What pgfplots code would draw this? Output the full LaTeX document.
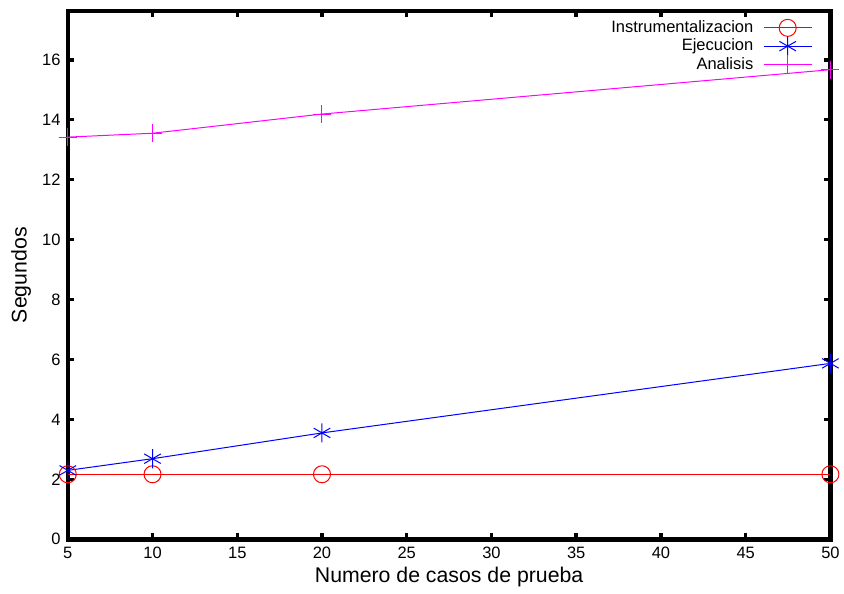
\documentclass[border=0pt]{standalone}
\usepackage{fontspec}
\setmainfont{Liberation Sans}
\usepackage{pgfplots}
\pgfplotsset{compat=1.18}

\definecolor{gpred}{RGB}{255,0,0}
\definecolor{gpblue}{RGB}{0,0,255}
\definecolor{gpmag}{RGB}{255,0,255}

\begin{document}
\begin{tikzpicture}[x=1pt,y=1pt]
\begin{axis}[
    scale only axis,
    width=573.75pt,
    height=397.5pt,
    xmin=5, xmax=50,
    ymin=0, ymax=17.63,
    xtick={5,10,15,20,25,30,35,40,45,50},
    ytick={0,2,4,6,8,10,12,14,16},
    minor tick num=0,
    tick align=inside,
    major tick length=4.5pt,
    every tick/.style={black, line width=2.6pt},
    axis line style={line width=3.3pt, black},
    xlabel={Numero de casos de prueba},
    ylabel={Segundos},
    every axis label/.append style={font=\fontsize{16}{18}\selectfont},
    xlabel style={yshift=0pt},
    ylabel style={yshift=1.5pt},
    tick label style={font=\fontsize{12.4}{14}\selectfont},
    /pgf/number format/assume math mode=true,
    xticklabel style={yshift=-2pt},
    yticklabel style={xshift=-2pt},
    clip=false,
    legend plot pos=right,
    legend cell align=right,
    legend style={
        at={(rel axis cs:0.9816,0.99)}, anchor=north east,
        draw=none, fill=none,
        font=\fontsize{12.4}{14}\selectfont,
        row sep=0pt, column sep=4.5pt,
        nodes={inner xsep=3pt, inner ysep=0pt, text height=9.8pt, text depth=3.3pt},
    },
    legend image code/.code={
        \draw[mark repeat=2, mark phase=2, #1]
            plot coordinates {(0pt,0pt) (18pt,0pt) (36pt,0pt)};
    },
]

\addplot[color=gpred, line width=0.75pt, mark=o,
    mark options={line width=0.75pt, scale=3.2}]
    coordinates {(5,2.17) (10,2.17) (20,2.17) (50,2.17)};
\addlegendentry{Instrumentalizacion}

\addplot[color=gpblue, line width=0.75pt, mark=asterisk,
    mark options={line width=0.75pt, scale=3.6}]
    coordinates {(5,2.30) (10,2.69) (20,3.55) (50,5.87)};
\addlegendentry{Ejecucion}

\addplot[color=gpmag, line width=0.75pt, mark=+,
    mark options={line width=0.75pt, scale=3.4}]
    coordinates {(5,13.42) (10,13.55) (20,14.19) (50,15.67)};
\addlegendentry{Analisis}

\end{axis}
\path (current axis.south west) ++(-51pt,-40.5pt);
\path (current axis.north east) ++(8.25pt,8.25pt);
\end{tikzpicture}
\end{document}
